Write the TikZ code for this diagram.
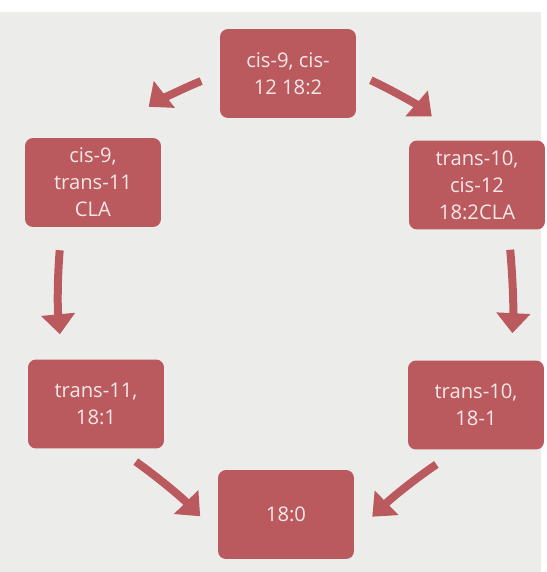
\documentclass[tikz,border=0pt]{standalone}
\usepackage{fontspec}
\setmainfont{Open Sans}
\usepackage{tikz}
\usetikzlibrary{arrows.meta}
\definecolor{fatred}{RGB}{186,90,94}
\definecolor{paper}{RGB}{236,236,235}
\definecolor{pale}{RGB}{246,232,230}

\begin{document}
\begin{tikzpicture}[x=0.02cm, y=-0.02cm,
    acid/.style = {fill=fatred, rounded corners=0.16cm, minimum width=2.72cm, minimum height=1.78cm,
                   text=pale, align=center, font=\fontsize{11.5}{15.3}\selectfont, inner sep=0pt},
    conv/.style = {draw=fatred, line width=0.16cm, -{Triangle[width=0.66cm,length=0.4cm]}}]
          \fill[white] (0,0) rectangle (547,572);
          \fill[paper] (0,12) rectangle (541,572);
          \useasboundingbox (0,0) rectangle (547,572);
          \node[acid](lino) at (288,73.5) {cis-9, cis-\\12 18:2};
          \node[acid](cla911) at (93,182.5) {cis-9,\\trans-11\\CLA};
          \node[acid](cla1012) at (477,185) {trans-10,\\cis-12\\18:2CLA};
          \node[acid](vacc) at (96,404) {trans-11,\\18:1};
          \node[acid](t10) at (476,405) {trans-10,\\18-1};
          \node[acid](stear) at (286,514.5) {18:0};
          \draw[conv, shorten <=0.4cm, shorten >=1.0cm] (lino.west) to[bend right=8] (cla911.70);
          \draw[conv, shorten <=0.32cm, shorten >=0.72cm] (lino.east) to[bend left=8] (cla1012.112);
          \draw[conv, shorten <=0.46cm, shorten >=0.5cm] (cla911.235) to[bend right=5] (vacc.127);
          \draw[conv, shorten <=0.4cm, shorten >=0.54cm] (cla1012.305) to[bend left=4] (t10.52);
          \draw[conv, shorten <=0.44cm, shorten >=0.5cm] (vacc.296) to[bend left=5] (stear.196);
          \draw[conv, shorten <=0.52cm, shorten >=0.5cm] (t10.248) to[bend right=5] (stear.344);
        \end{tikzpicture}
\end{document}
